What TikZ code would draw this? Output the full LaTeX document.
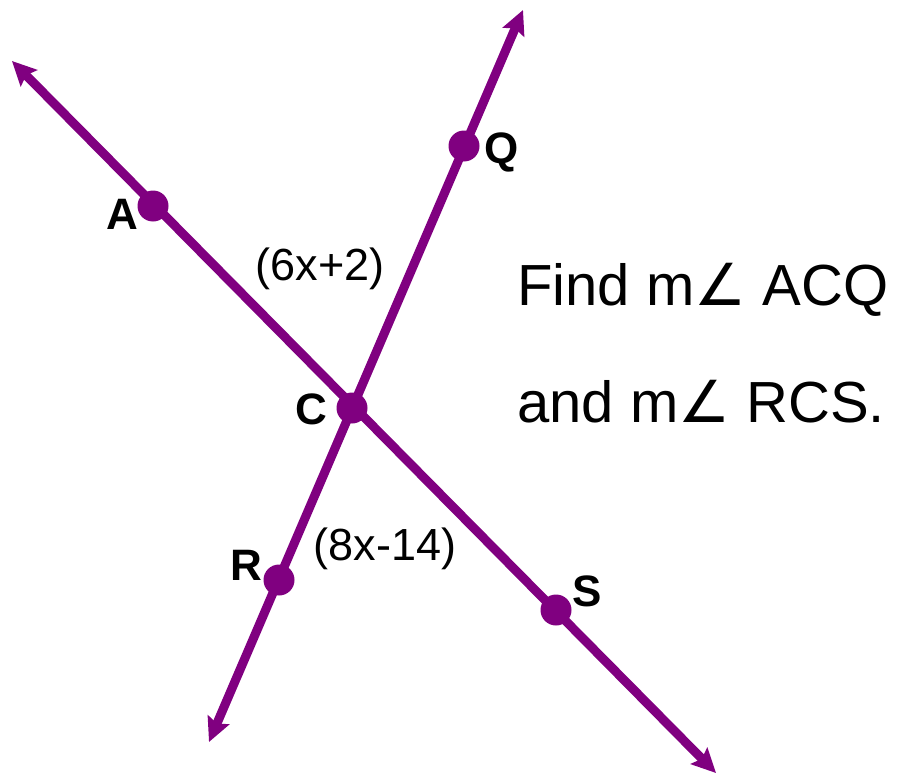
\documentclass[tikz,border=0pt]{standalone}
\usepackage{fontspec}
\setmainfont{Liberation Sans}
\newfontfamily\symfont{DejaVu Sans}
\usetikzlibrary{arrows.meta}
\definecolor{lpurple}{HTML}{800080}
\tikzset{
  geoline/.style={draw=lpurple, line width=9pt,
    {Stealth[length=24pt,width=23pt,inset=4pt]}-{Stealth[length=24pt,width=23pt,inset=4pt]}},
  pt/.style={circle, fill=lpurple, inner sep=0pt, minimum size=31pt},
  plabel/.style={font=\fontsize{44}{48}\selectfont\bfseries, inner sep=0pt},
  alabel/.style={font=\fontsize{45}{50}\selectfont, inner sep=0pt},
  qtext/.style={font=\fontsize{58}{62}\selectfont, inner sep=0pt, anchor=base west}
}
\begin{document}
\begin{tikzpicture}[x=1pt,y=-1pt]
\useasboundingbox (0,0) rectangle (899,776);
% line endpoints
\coordinate (tAS1) at (12,61);
\coordinate (tAS2) at (716,773);
\coordinate (tQR1) at (523,10);
\coordinate (tQR2) at (209,742);
\draw[geoline] (tAS1) -- (tAS2);
\draw[geoline] (tQR1) -- (tQR2);
% points
\node[pt] (A) at (153,206) {};
\node[pt] (Q) at (464,146) {};
\node[pt] (C) at (352,408) {};
\node[pt] (R) at (279,580) {};
\node[pt] (S) at (556,610) {};
% point labels
\node[plabel] (lA) at (122,214) {A};
\node[plabel] (lQ) at (502,152) {Q};
\node[plabel] (lC) at (311,409) {C};
\node[plabel] (lR) at (246,565) {R};
\node[plabel] (lS) at (587,591) {S};
% angle labels
\node[alabel] (a1) at (320,269) {(6x+2)};
\node[alabel] (a2) at (385,549) {(8x-14)};
% question
\node[qtext] (q1) at (517,305) {Find m{\symfont ∠} ACQ};
\node[qtext] (q2) at (517,422) {and m{\symfont ∠} RCS.};
\end{tikzpicture}
\end{document}
